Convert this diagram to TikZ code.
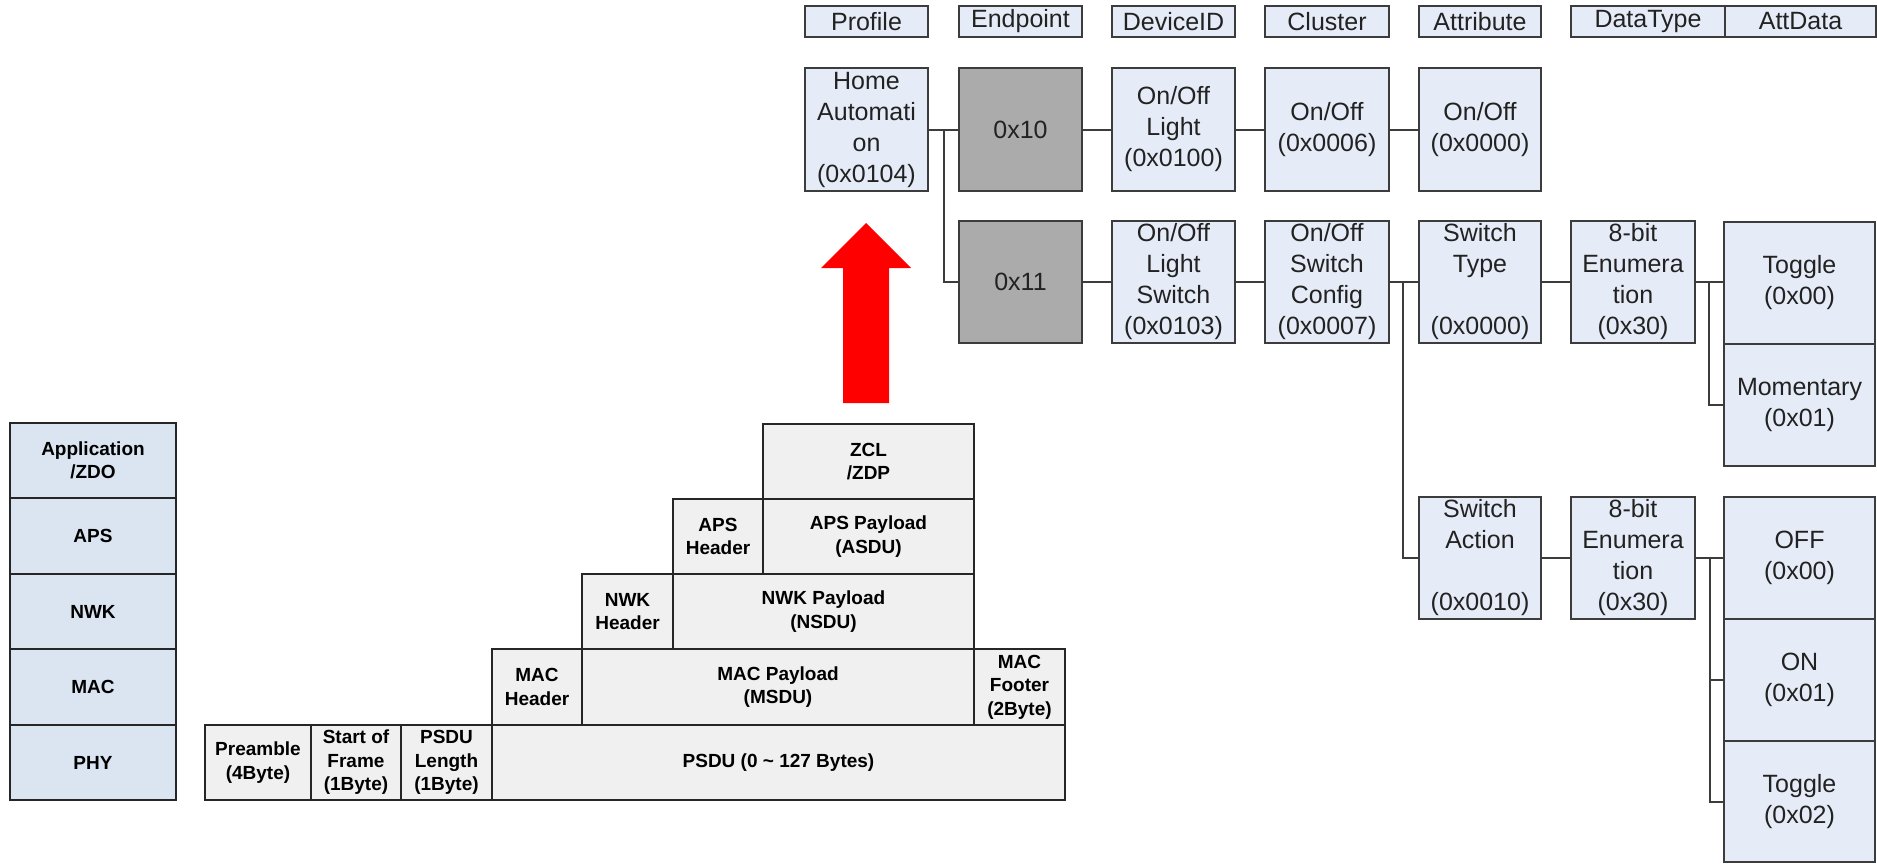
\documentclass[tikz,border=0pt]{standalone}
\usepackage{fontspec}
\setmainfont{Liberation Sans}
\definecolor{treeblue}{HTML}{E6ECF7}
\definecolor{stackblue}{HTML}{DBE5F1}
\definecolor{framegray}{HTML}{F0F0F0}
\definecolor{epgray}{HTML}{ABABAB}
\definecolor{bordergray}{HTML}{3C3C3C}
\definecolor{textgray}{HTML}{222222}
\definecolor{arrowred}{HTML}{FF0000}
\begin{document}
\begin{tikzpicture}[x=1pt,y=-1pt,
  box/.style={draw=bordergray, line width=2pt, inner sep=0pt, align=center, text=textgray},
  tree/.style={box, fill=treeblue, minimum width=123pt, minimum height=123pt, font=\fontsize{25}{31}\selectfont},
  hdr/.style={box, fill=treeblue, minimum height=31pt, font=\fontsize{25}{30}\selectfont},
  ep/.style={tree, fill=epgray},
  frm/.style={draw=black!85, line width=2.5pt, fill=framegray, inner sep=0pt, align=center, text=black, font=\bfseries\fontsize{19}{23.5}\selectfont},
  stk/.style={frm, fill=stackblue, minimum width=166pt},
  link/.style={draw=bordergray, line width=2pt}
]
\useasboundingbox (0,0) rectangle (1877,863);

% ---------- header row ----------
\node[hdr, minimum width=123pt] (hProfile)  at (866.5,21.5) {Profile};
\node[hdr, minimum width=123pt] (hEndpoint) at (1020.5,21.5) {Endpoint};
\node[hdr, minimum width=123pt] (hDevice)   at (1173.5,21.5) {DeviceID};
\node[hdr, minimum width=124pt] (hCluster)  at (1327,21.5) {Cluster};
\node[hdr, minimum width=122pt] (hAttr)     at (1480,21.5) {Attribute};
\node[hdr, minimum width=154pt] (hDtype)    at (1648,21.5) {DataType};
\node[hdr, minimum width=151pt] (hAttd)     at (1800.5,21.5) {AttData};

% ---------- row 1 ----------
\node[tree] (home)  at (866.5,129.5) {Home\\Automati\\on\\(0x0104)};
\node[ep]   (ep10)  at (1020.5,129.5) {0x10};
\node[tree] (light) at (1173.5,129.5) {On/Off\\Light\\(0x0100)};
\node[tree, minimum width=124pt] (cl1) at (1327,129.5) {On/Off\\(0x0006)};
\node[tree, minimum width=122pt] (at1) at (1480,129.5) {On/Off\\(0x0000)};

% ---------- row 2 ----------
\node[ep, minimum height=122pt]   (ep11)  at (1020.5,282) {0x11};
\node[tree, minimum height=122pt] (lsw)   at (1173.5,282) {On/Off\\Light\\Switch\\(0x0103)};
\node[tree, minimum height=122pt, minimum width=124pt] (cfg) at (1327,282) {On/Off\\Switch\\Config\\(0x0007)};
\node[tree, minimum height=122pt, minimum width=122pt] (swtype) at (1480,282) {Switch\\Type\\\mbox{}\\(0x0000)};
\node[tree, minimum height=122pt, minimum width=124pt] (enum1) at (1633,282) {8-bit\\Enumera\\tion\\(0x30)};
\node[tree, minimum height=122pt, minimum width=151pt] (tog1) at (1799.5,282.5) {Toggle\\(0x00)};
\node[tree, minimum height=122pt, minimum width=151pt] (mom)  at (1799.5,405) {Momentary\\(0x01)};

% ---------- row 3 ----------
\node[tree, minimum height=122pt, minimum width=122pt] (swact) at (1480,558) {Switch\\Action\\\mbox{}\\(0x0010)};
\node[tree, minimum height=122pt, minimum width=124pt] (enum2) at (1633,558) {8-bit\\Enumera\\tion\\(0x30)};
\node[tree, minimum height=122pt, minimum width=151pt] (off)  at (1799.5,558) {OFF\\(0x00)};
\node[tree, minimum height=122pt, minimum width=151pt] (on)   at (1799.5,680) {ON\\(0x01)};
\node[tree, minimum height=121pt, minimum width=151pt] (tog2) at (1799.5,801.5) {Toggle\\(0x02)};

% ---------- connectors ----------
\coordinate (j1) at (944,129.5);
\coordinate (j2) at (1403,282);
\coordinate (j3) at (1709,282);
\coordinate (j4) at (1710,558);
\draw[link] (home.east) -- (ep10.west);
\draw[link] (j1) |- (ep11.west);
\draw[link] (ep10.east) -- (light.west);
\draw[link] (light.east) -- (cl1.west);
\draw[link] (cl1.east) -- (at1.west);
\draw[link] (ep11.east) -- (lsw.west);
\draw[link] (lsw.east) -- (cfg.west);
\draw[link] (cfg.east) -- (swtype.west);
\draw[link] (j2) |- (swact.west);
\draw[link] (swtype.east) -- (enum1.west);
\draw[link] (enum1.east) -- (enum1.east -| tog1.west);
\draw[link] (j3) |- (mom.west);
\draw[link] (swact.east) -- (enum2.west);
\draw[link] (enum2.east) -- (off.west);
\draw[link] (j4) |- (on.west);
\draw[link] (j4) |- (tog2.west);

% ---------- red arrow ----------
\fill[arrowred] (843,403) -- (843,268) -- (821,268) -- (866,223) -- (911,268) -- (889,268) -- (889,403) -- cycle;

% ---------- protocol stack ----------
\node[stk, minimum height=75pt] (sApp) at (93,460.5) {Application\\/ZDO};
\node[stk, minimum height=76pt] (sAps) at (93,536) {APS};
\node[stk, minimum height=75pt] (sNwk) at (93,611.5) {NWK};
\node[stk, minimum height=76pt] (sMac) at (93,687) {MAC};
\node[stk, minimum height=75pt] (sPhy) at (93,762.5) {PHY};

% ---------- frame ----------
\node[frm, minimum width=211pt, minimum height=75pt] (zcl)  at (868.5,461.5) {ZCL\\/ZDP};
\node[frm, minimum width=90pt,  minimum height=75pt] (apsh) at (718,536.5) {APS\\Header};
\node[frm, minimum width=211pt, minimum height=75pt] (apsp) at (868.5,536.5) {APS Payload\\(ASDU)};
\node[frm, minimum width=91pt,  minimum height=75pt] (nwkh) at (627.5,611.5) {NWK\\Header};
\node[frm, minimum width=301pt, minimum height=75pt] (nwkp) at (823.5,611.5) {NWK Payload\\(NSDU)};
\node[frm, minimum width=90pt,  minimum height=76pt] (mach) at (537,687) {MAC\\Header};
\node[frm, minimum width=392pt, minimum height=76pt] (macp) at (778,687) {MAC Payload\\(MSDU)};
\node[frm, minimum width=91pt,  minimum height=76pt] (macf) at (1019.5,687) {MAC\\Footer\\(2Byte)};
\node[frm, minimum width=106pt, minimum height=75pt] (pre)  at (258,762.5) {Preamble\\(4Byte)};
\node[frm, minimum width=90pt,  minimum height=75pt] (sof)  at (356,762.5) {Start of\\Frame\\(1Byte)};
\node[frm, minimum width=91pt,  minimum height=75pt] (len)  at (446.5,762.5) {PSDU\\Length\\(1Byte)};
\node[frm, minimum width=573pt, minimum height=75pt] (psdu) at (778.5,762.5) {PSDU (0 \textasciitilde{} 127 Bytes)};
\end{tikzpicture}
\end{document}
